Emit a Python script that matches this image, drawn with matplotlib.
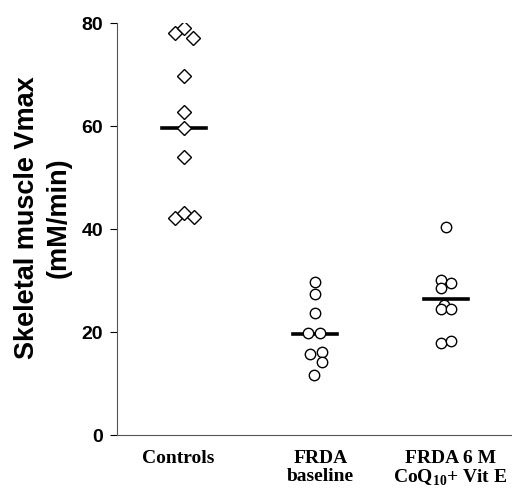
import numpy as np
import matplotlib.pyplot as plt

plt.rcParams["mathtext.fontset"] = "custom"
plt.rcParams["mathtext.rm"] = "Liberation Serif:bold"
plt.rcParams["mathtext.bf"] = "Liberation Serif:bold"

# values (mM/min)
controls = [78.1, 79.0, 77.1, 69.7, 62.7, 59.6, 54.0, 42.1, 43.1, 42.3]
baseline = [29.7, 27.4, 23.7, 19.8, 19.8, 16.1, 15.7, 14.2, 11.7]
treated = [40.4, 30.1, 29.5, 28.5, 25.2, 24.4, 24.4, 17.9, 18.3]
group_lines = [59.6, 19.6, 26.4]
groups = ["Controls", "FRDA\nbaseline", "FRDA 6 M\nCoQ$_{\\mathrm{10}}$+ Vit E"]

# small horizontal offsets so overlapping points are visible
jitter = [
    [-0.07, 0.0, 0.07, 0, 0, 0, 0, -0.07, 0.0, 0.08],
    [0, 0, 0, -0.05, 0.04, 0.05, -0.04, 0.05, -0.01],
    [0, -0.04, 0.035, -0.04, -0.02, -0.04, 0.035, -0.04, 0.035],
]

fig = plt.figure(figsize=(5.12, 4.93), dpi=100)
ax = fig.add_axes([0.2285, 0.1176, 0.771, 0.8357])

series = [controls, baseline, treated]
markers = ["D", "o", "o"]
sizes = [7.2, 7.5, 7.5]
for i, vals in enumerate(series):
    x = i + 1 + np.array(jitter[i])
    ax.plot(x, vals, linestyle="none", marker=markers[i], ms=sizes[i],
            mfc="white", mec="black", mew=1.0, zorder=3)
    ax.plot([i + 1 - 0.17, i + 1 + 0.17], [group_lines[i]] * 2,
            color="black", lw=2.6, zorder=2)

ax.set_xlim(0.49, 3.5)
ax.set_ylim(0, 80)
ax.set_yticks([0, 20, 40, 60, 80])
ax.set_xticks([0.96, 2.04, 3.03])
ax.set_xticklabels(groups, fontfamily="Liberation Serif", fontweight="bold",
                   fontsize=14, linespacing=1.02)
ax.tick_params(axis="x", length=0, pad=11)
ax.tick_params(axis="y", direction="out", length=5, width=0.8, pad=5,
               labelsize=14)
for lab in ax.get_yticklabels():
    lab.set_fontfamily("Liberation Sans")
    lab.set_fontweight("bold")

for s in ["top", "right"]:
    ax.spines[s].set_visible(False)
for s in ["left", "bottom"]:
    ax.spines[s].set_linewidth(0.8)
    ax.spines[s].set_color("#555555")

ax.set_ylabel("Skeletal muscle Vmax\n(mM/min)", fontfamily="Liberation Sans",
              fontweight="bold", fontsize=19.5, linespacing=1.3)
ax.yaxis.set_label_coords(-0.115, 0.527)

fig.savefig("out.png", dpi=100)
